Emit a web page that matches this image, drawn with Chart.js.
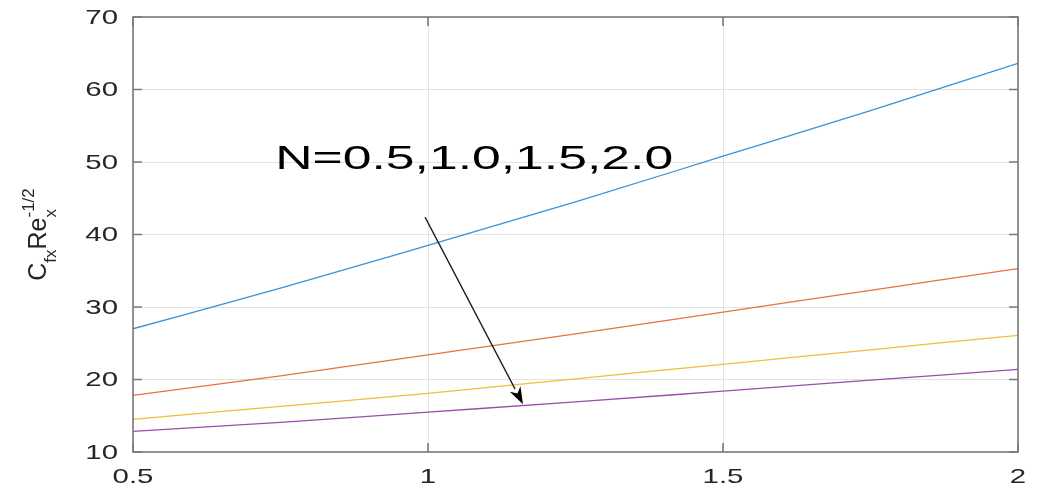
<!DOCTYPE html>
<html>
<head>
<meta charset="utf-8">
<script src="https://cdn.jsdelivr.net/npm/chart.js@4/dist/chart.umd.min.js"></script>
<style>
  html, body { margin: 0; padding: 0; background: #ffffff; }
  #wrap { width: 1043px; height: 488px; position: relative; }
</style>
</head>
<body>
<div id="wrap"><canvas id="c"></canvas></div>
<script>
// Skin friction coefficient against the x-axis parameter, one curve per N
const xValues = [0.5, 0.75, 1, 1.25, 1.5, 1.75, 2];
const cfN05 = [27.0, 32.6, 38.5, 44.5, 50.8, 57.1, 63.6];
const cfN10 = [17.8, 20.5, 23.4, 26.3, 29.3, 32.3, 35.3];
const cfN15 = [14.5, 16.3, 18.1, 20.1, 22.1, 24.1, 26.1];
const cfN20 = [12.85, 14.1, 15.5, 16.9, 18.4, 19.9, 21.4];

const xTicks = [0.5, 1, 1.5, 2];
const xTickLabels = ['0.5', '1', '1.5', '2'];
const yTicks = [10, 20, 30, 40, 50, 60, 70];
const yTickLabels = ['10', '20', '30', '40', '50', '60', '70'];

const noteText = 'N=0.5,1.0,1.5,2.0';
// note anchor and arrow ends, in data units
const noteAt = [0.741, 49.0];
const arrowFrom = [0.995, 42.4];
const arrowTo = [1.161, 16.6];

const toPoints = ys => xValues.map((x, i) => ({ x, y: ys[i] }));

const FONT = '"Liberation Sans", Arial, Helvetica, sans-serif';
const AXIS_COLOR = '#7a7a7a';
const TEXT_COLOR = '#262626';

const matlabFrame = {
  id: 'matlabFrame',
  afterDraw(chart) {
    const { ctx, chartArea: a, scales } = chart;
    const xs = scales.x, ys = scales.y;
    ctx.save();

    // axes box
    ctx.strokeStyle = AXIS_COLOR;
    ctx.lineWidth = 1.6;
    ctx.strokeRect(a.left, a.top, a.right - a.left, a.bottom - a.top);

    // inward tick marks
    const tl = 9;
    ctx.lineWidth = 1.6;
    ctx.beginPath();
    xTicks.forEach(v => {
      const px = xs.getPixelForValue(v);
      ctx.moveTo(px, a.bottom); ctx.lineTo(px, a.bottom - tl);
      ctx.moveTo(px, a.top); ctx.lineTo(px, a.top + tl);
    });
    yTicks.forEach(v => {
      const py = ys.getPixelForValue(v);
      ctx.moveTo(a.left, py); ctx.lineTo(a.left + tl, py);
      ctx.moveTo(a.right, py); ctx.lineTo(a.right - tl, py);
    });
    ctx.stroke();

    // tick labels (wide face)
    ctx.fillStyle = TEXT_COLOR;
    ctx.font = '21px ' + FONT;
    ctx.textBaseline = 'middle';
    ctx.textAlign = 'right';
    yTicks.forEach((v, i) => {
      ctx.save();
      ctx.translate(a.left - 15, ys.getPixelForValue(v) + 1);
      ctx.scale(1.4, 1);
      ctx.fillText(yTickLabels[i], 0, 0);
      ctx.restore();
    });
    ctx.textBaseline = 'alphabetic';
    ctx.textAlign = 'center';
    xTicks.forEach((v, i) => {
      ctx.save();
      ctx.translate(xs.getPixelForValue(v), a.bottom + 31);
      ctx.scale(1.4, 1);
      ctx.fillText(xTickLabels[i], 0, 0);
      ctx.restore();
    });

    // y-axis title: C_{fx} Re_x^{-1/2}
    ctx.save();
    ctx.translate(a.left - 87, (a.top + a.bottom) / 2);
    ctx.rotate(-Math.PI / 2);
    ctx.textAlign = 'left';
    const big = '25px ' + FONT, small = '17px ' + FONT;
    const parts = [
      { t: 'C', f: big, dy: 0 },
      { t: 'fx', f: small, dy: 10 },
      { t: 'Re', f: big, dy: 0 },
      { t: '-1/2', f: small, dy: -12, sup: true },
      { t: 'x', f: small, dy: 10, under: true }
    ];
    let total = 0, supW = 0;
    parts.forEach(p => {
      ctx.font = p.f;
      p.w = ctx.measureText(p.t).width;
      if (p.sup) supW = p.w; else if (!p.under) total += p.w;
    });
    total += supW;
    let cx = -total / 2, supStart = 0;
    parts.forEach(p => {
      ctx.font = p.f;
      if (p.sup) { supStart = cx; ctx.fillText(p.t, cx, p.dy); cx += p.w; }
      else if (p.under) { ctx.fillText(p.t, supStart, p.dy); }
      else { ctx.fillText(p.t, cx, p.dy); cx += p.w; }
    });
    ctx.restore();

    // annotation text
    ctx.save();
    ctx.fillStyle = '#000000';
    ctx.font = '34px ' + FONT;
    ctx.textAlign = 'left';
    ctx.textBaseline = 'alphabetic';
    ctx.translate(xs.getPixelForValue(noteAt[0]), ys.getPixelForValue(noteAt[1]));
    ctx.scale(1.52, 1);
    ctx.fillText(noteText, 0, 0);
    ctx.restore();

    // arrow
    const x0 = xs.getPixelForValue(arrowFrom[0]), y0 = ys.getPixelForValue(arrowFrom[1]);
    const x1 = xs.getPixelForValue(arrowTo[0]), y1 = ys.getPixelForValue(arrowTo[1]);
    const ang = Math.atan2(y1 - y0, x1 - x0);
    const hl = 17, hw = 6;
    const bx = x1 - hl * Math.cos(ang), by = y1 - hl * Math.sin(ang);
    ctx.strokeStyle = '#1a1a1a';
    ctx.fillStyle = '#000000';
    ctx.lineWidth = 1.3;
    ctx.beginPath();
    ctx.moveTo(x0, y0);
    ctx.lineTo(bx, by);
    ctx.stroke();
    ctx.beginPath();
    ctx.moveTo(x1, y1);
    ctx.lineTo(bx + hw * Math.sin(ang), by - hw * Math.cos(ang));
    ctx.lineTo(x1 - (hl * 0.7) * Math.cos(ang), y1 - (hl * 0.7) * Math.sin(ang));
    ctx.lineTo(bx - hw * Math.sin(ang), by + hw * Math.cos(ang));
    ctx.closePath();
    ctx.fill();

    ctx.restore();
  }
};

const lineStyle = color => ({
  borderColor: color,
  backgroundColor: color,
  borderWidth: 1.3,
  pointRadius: 0,
  fill: false,
  cubicInterpolationMode: 'monotone'
});

new Chart(document.getElementById('c'), {
  type: 'line',
  data: {
    datasets: [
      { label: 'N=0.5', data: toPoints(cfN05), ...lineStyle('#3a92d4') },
      { label: 'N=1.0', data: toPoints(cfN10), ...lineStyle('#e9703f') },
      { label: 'N=1.5', data: toPoints(cfN15), ...lineStyle('#f3bd3c') },
      { label: 'N=2.0', data: toPoints(cfN20), ...lineStyle('#9a4eaa') }
    ]
  },
  options: {
    responsive: true,
    maintainAspectRatio: false,
    animation: false,
    layout: { padding: { left: 133, right: 25, top: 17, bottom: 36 } },
    plugins: { legend: { display: false }, tooltip: { enabled: false } },
    scales: {
      x: {
        type: 'linear',
        min: 0.5,
        max: 2,
        afterBuildTicks: s => { s.ticks = xTicks.map(v => ({ value: v })); },
        ticks: { display: false },
        grid: { color: '#e3e3e3', lineWidth: 1, drawTicks: false },
        border: { display: false }
      },
      y: {
        min: 10,
        max: 70,
        afterBuildTicks: s => { s.ticks = yTicks.map(v => ({ value: v })); },
        ticks: { display: false },
        grid: { color: '#e3e3e3', lineWidth: 1, drawTicks: false },
        border: { display: false }
      }
    }
  },
  plugins: [matlabFrame]
});
</script>
</body>
</html>
